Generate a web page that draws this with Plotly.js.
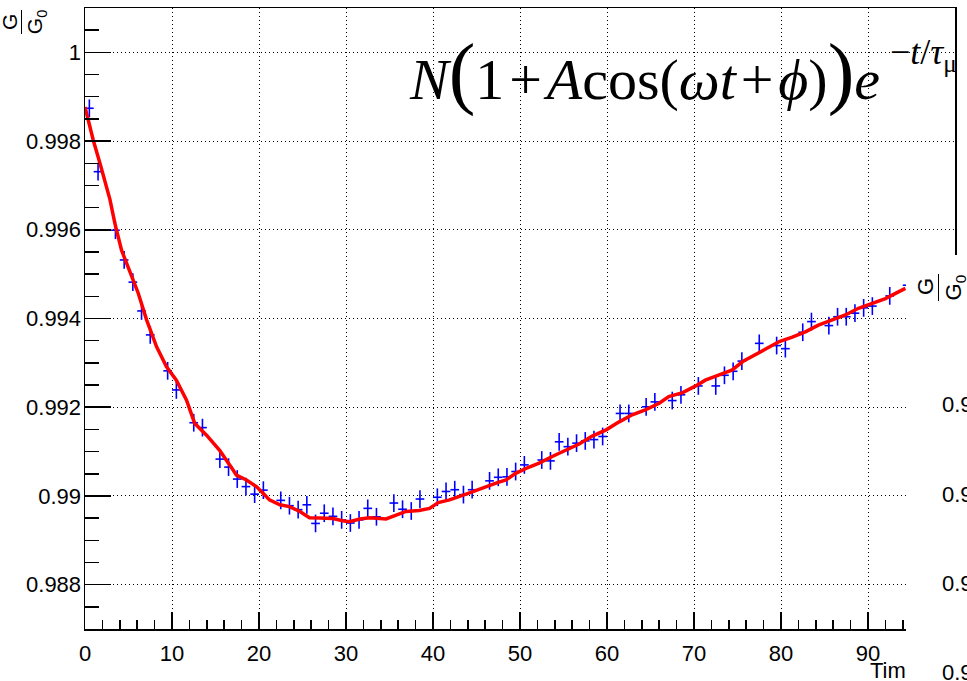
<!DOCTYPE html>
<html><head><meta charset="utf-8">
<script src="https://cdn.plot.ly/plotly-3.0.1.min.js"></script>
<style>html,body{margin:0;padding:0;background:#fff;}#chart{width:967px;height:681px;}</style>
</head><body><div id="chart"></div>
<script>
// ---- data ----
const binCenters = [0.5,1.5,3.5,4.5,5.5,6.5,7.5,9.5,10.5,12.5,13.5,15.5,16.5,17.5,18.5,19.5,20.5,22.5,23.5,24.5,25.5,26.5,27.5,28.5,29.5,30.5,31.5,32.5,33.5,35.5,36.5,37.5,38.5,40.5,41.5,42.5,43.5,44.5,46.5,47.5,48.5,49.5,50.5,52.5,53.5,54.5,55.5,56.5,57.5,58.5,59.5,61.5,62.5,64.5,65.5,67.5,68.5,70.5,72.5,73.5,74.5,75.5,77.5,79.5,80.5,82.5,83.5,85.5,86.5,87.5,88.5,89.5,90.5,92.5,94.5];
const ratioValues = [0.99874,0.99731,0.99599,0.99532,0.99482,0.99417,0.99363,0.99282,0.99239,0.99165,0.99154,0.99083,0.99065,0.99038,0.99021,0.99004,0.99013,0.9899,0.98978,0.98969,0.9898,0.98938,0.98961,0.98954,0.98946,0.98939,0.98946,0.98972,0.98953,0.98984,0.9897,0.98966,0.98993,0.98997,0.9901,0.99014,0.99003,0.99014,0.99034,0.99042,0.99043,0.99055,0.9907,0.99081,0.99079,0.99122,0.99111,0.99119,0.99124,0.99127,0.99134,0.99186,0.99186,0.99201,0.99212,0.99215,0.99228,0.99248,0.99248,0.99272,0.99281,0.99304,0.99344,0.99339,0.99332,0.99369,0.99393,0.99384,0.99404,0.99404,0.99412,0.99424,0.99428,0.99451,0.99475];
const fitTime = [0,0.95,1.72,2.87,3.44,4.2,5.17,6.12,7.08,8.23,9.37,10.5,11.67,12.6,13.97,15.5,17.0,17.4,18.55,19.7,20.47,21.2,22.4,23.5,24.7,25.8,27.0,28.5,29.6,30.4,31.6,32.7,34.6,35.8,36.9,38.4,39.6,40.6,41.9,43.8,45.5,47.4,48.4,49.5,50.7,52.2,53.7,55.3,56.8,58.3,59.9,61.4,62.9,64.4,66.0,67.1,68.7,70.2,71.3,72.9,74.4,75.6,77.0,78.2,79.8,81.3,82.8,84.3,85.8,87.4,88.9,90.5,92.0,93.5,94.3];
const fitValues = [0.99877,0.99802,0.9975,0.99668,0.99614,0.99554,0.99505,0.99457,0.99397,0.99336,0.99291,0.99261,0.99216,0.99164,0.99137,0.99102,0.99059,0.99047,0.99036,0.99021,0.99006,0.98991,0.9898,0.98976,0.98965,0.98951,0.9895,0.98949,0.98944,0.98942,0.98948,0.98951,0.98948,0.98957,0.98965,0.98967,0.98972,0.98985,0.98991,0.99004,0.99017,0.9903,0.99036,0.99051,0.99062,0.99074,0.99089,0.99104,0.99117,0.99135,0.99149,0.99167,0.99183,0.99194,0.99209,0.99224,0.99233,0.99248,0.99261,0.99273,0.99284,0.99303,0.99318,0.99329,0.99348,0.99358,0.9937,0.99385,0.99397,0.99408,0.99423,0.99434,0.99445,0.9946,0.99468];
const xTitle = 'Time [μs]';
const overlayTickLabels = ['0.9','0.9','0.9','0.9'];
const HS = '\u200A';
const formulaMain = '<i>N</i><span style="font-size:80px">(</span>1'+HS+'+'+HS+'<i>A</i>cos(<i>ωt</i>'+HS+'+'+HS+'<i>ϕ</i>)<span style="font-size:80px">)</span><i>e</i>';
const formulaExp = '−<i>t</i>/<i>τ</i><sub>μ</sub>';

// ---- pixel helpers for the frame ----
const PL=85, PR=955, PT=8, PB=629;
const px = v => (v-PL)/(PR-PL);
const py = v => (PB-v)/(PB-PT);

const errTrace = {
  type:'scatter', mode:'markers', x:binCenters, y:ratioValues,
  marker:{size:1,color:'#0000ff'},
  error_x:{type:'constant', value:0.5, width:0, thickness:1.6, color:'#0000ff'},
  error_y:{type:'constant', value:0.0002, width:0, thickness:1.6, color:'#0000ff'},
  hoverinfo:'skip'
};
const fitTrace = {
  type:'scatter', mode:'lines', x:fitTime, y:fitValues,
  line:{color:'#ff0000', width:3.5}, hoverinfo:'skip'
};

const sans = 'Liberation Sans, Arial, Helvetica, sans-serif';
const serif = 'Liberation Serif, Times New Roman, serif';
function frac(cx, cy, gap, fs, barLen){
  return [
    {xref:'paper',yref:'paper',x:px(cx-gap),y:py(cy),xanchor:'center',yanchor:'middle',text:'G',textangle:-90,showarrow:false,font:{family:sans,size:fs,color:'black'}},
    {xref:'paper',yref:'paper',x:px(cx),y:py(cy),xanchor:'center',yanchor:'middle',text:' ',width:1.3,height:barLen,bgcolor:'#000000',borderpad:0,borderwidth:0,showarrow:false},
    {xref:'paper',yref:'paper',x:px(cx+gap+fs*0.2),y:py(cy),xanchor:'center',yanchor:'middle',text:'G<sub>0</sub>',textangle:-90,showarrow:false,font:{family:sans,size:fs,color:'black'}}
  ];
}

const annotations = [
  {xref:'paper',yref:'paper',x:px(407),y:py(72),xanchor:'left',yanchor:'middle',text:formulaMain,showarrow:false,font:{family:serif,size:58,color:'black'}},
  {xref:'paper',yref:'paper',x:px(888),y:py(54),xanchor:'left',yanchor:'middle',text:formulaExp,showarrow:false,font:{family:serif,size:36,color:'black'}},
  {xref:'paper',yref:'paper',x:px(868),y:py(670),xanchor:'left',yanchor:'middle',text:xTitle,showarrow:false,font:{family:sans,size:22,color:'black'}},
  ...frac(21,22,11,21,24),
  // white block of the neighbouring pad that overlaps this canvas
  {xref:'paper',yref:'paper',x:px(906),y:py(255),xanchor:'left',yanchor:'top',text:' ',width:90,height:450,bgcolor:'#ffffff',borderpad:0,borderwidth:0,showarrow:false},
  ...frac(938,287,13,22,27),
];
[405,494,583,672].forEach((yy,i)=>{
  annotations.push({xref:'paper',yref:'paper',x:px(940),y:py(yy),xanchor:'left',yanchor:'middle',text:overlayTickLabels[i],showarrow:false,font:{family:sans,size:22,color:'black'}});
});

const layout = {
  width:967, height:681,
  margin:{l:PL,r:967-PR,t:PT,b:681-PB,pad:0},
  paper_bgcolor:'#ffffff', plot_bgcolor:'#ffffff', showlegend:false,
  font:{family:sans,size:22,color:'black'},
  xaxis:{range:[0,100], tick0:0, dtick:10, ticks:'inside', ticklen:17, tickwidth:1.5, tickcolor:'black',
    showline:true, linecolor:'black', linewidth:1.5, mirror:true,
    showgrid:true, gridcolor:'black', gridwidth:1, griddash:'1.3px,2.7px', zeroline:false,
    minor:{dtick:2, ticks:'inside', ticklen:9, tickwidth:1.5, tickcolor:'black', showgrid:false},
    tickfont:{family:sans,size:22,color:'black'}, ticklabelstandoff:4, fixedrange:true},
  yaxis:{range:[0.987,1.001], tick0:0.988, dtick:0.002, tickformat:'.3~f', ticks:'inside', ticklen:26, tickwidth:1.5, tickcolor:'black',
    showline:true, linecolor:'black', linewidth:1.5, mirror:true,
    showgrid:true, gridcolor:'black', gridwidth:1, griddash:'1.3px,2.7px', zeroline:false,
    minor:{dtick:0.0005, ticks:'inside', ticklen:14, tickwidth:1.5, tickcolor:'black', showgrid:false},
    tickfont:{family:sans,size:22,color:'black'}, ticklabelstandoff:-2, fixedrange:true},
  annotations
};
Plotly.newPlot('chart',[errTrace,fitTrace],layout,{staticPlot:true,displayModeBar:false});
</script></body></html>
